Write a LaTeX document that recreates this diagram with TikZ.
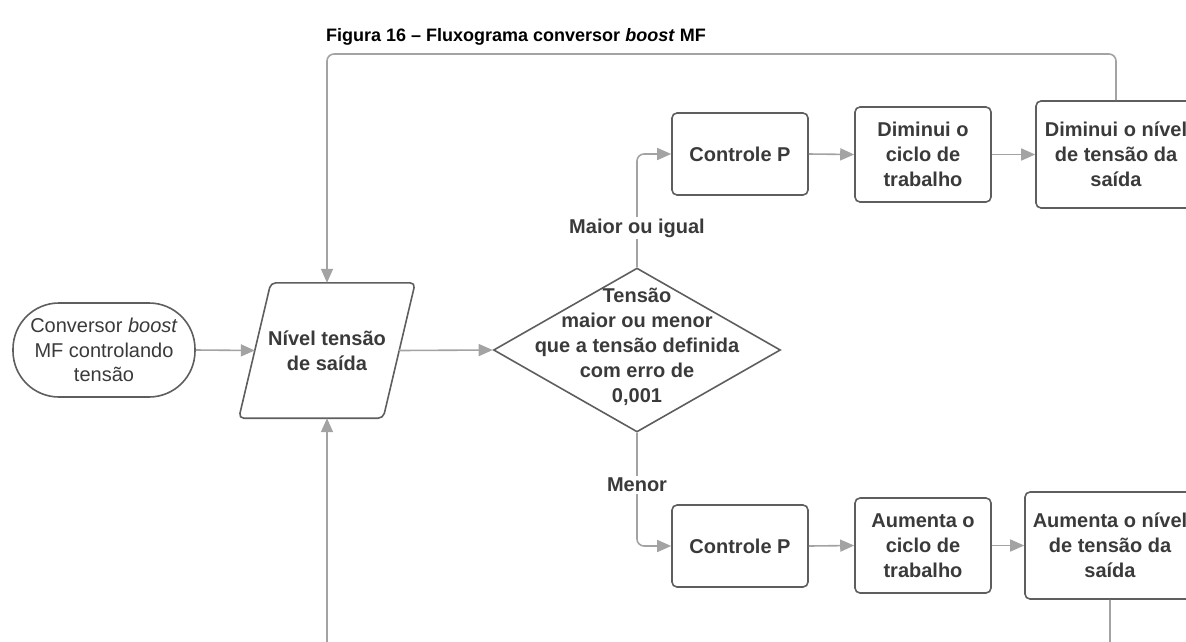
\documentclass[tikz,border=0pt]{standalone}
\usepackage{fontspec}
\setmainfont{Liberation Sans}
\usetikzlibrary{shapes.geometric,arrows.meta}
\definecolor{bordergray}{HTML}{5E5E5E}
\definecolor{linegray}{HTML}{A3A3A3}
\definecolor{textgray}{HTML}{3A3A3A}
\begin{document}
\begin{tikzpicture}[x=1pt,y=-1pt,
  txt/.style={font=\fontsize{20}{25}\selectfont\bfseries, text=textgray, align=center},
  box/.style={txt, draw=bordergray, line width=1.6pt, rounded corners=5pt, inner sep=0pt},
  conn/.style={draw=linegray, line width=1.6pt, -{Triangle[length=14pt,width=12pt]}, rounded corners=7pt},
  lbl/.style={txt, fill=white, inner sep=2pt}]
\useasboundingbox (0,0) rectangle (1186,641);
\clip (0,0) rectangle (1186,641);
\node[font=\fontsize{18}{22}\selectfont\bfseries] (title) at (516,37) {Figura 16 – Fluxograma conversor \textit{boost} MF};
\node[draw=bordergray, line width=1.6pt, rounded corners=46pt, minimum width=182pt, minimum height=94pt, inner sep=0pt, align=center, font=\fontsize{20}{24.5}\selectfont, text=textgray] (start) at (104,350) {Conversor \textit{boost}\\MF controlando\\tensão};
\node[txt, minimum width=144pt, minimum height=135pt, inner sep=0pt] (par) at (327,350.5) {Nível tensão\\de saída};
\draw[bordergray, line width=1.6pt, rounded corners=5pt] ([xshift=16pt]par.north west) -- ([xshift=16pt]par.north east) -- ([xshift=-16pt]par.south east) -- ([xshift=-16pt]par.south west) -- cycle;
\node[diamond, draw=bordergray, line width=1.6pt, minimum width=287pt, minimum height=164pt, inner sep=0pt] (dec) at (637,350) {};
\node[txt] (dectext) at (637,347) {Tensão\\maior ou menor\\que a tensão definida\\com erro de\\0,001};
\node[box, minimum width=136pt, minimum height=82pt] (cp1) at (740,154) {Controle P};
\node[box, minimum width=136pt, minimum height=95pt] (dc1) at (923,154.5) {Diminui o\\ciclo de\\trabalho};
\node[box, minimum width=160pt, minimum height=107pt] (dn1) at (1116,154.5) {Diminui o nível\\de tensão da\\saída};
\node[box, minimum width=136pt, minimum height=82pt] (cp2) at (740,546) {Controle P};
\node[box, minimum width=136pt, minimum height=95pt] (ac2) at (923,545.5) {Aumenta o\\ciclo de\\trabalho};
\node[box, minimum width=170pt, minimum height=107pt] (an2) at (1110,545.5) {Aumenta o nível\\de tensão da\\saída};
\coordinate (topy) at (0,54);
\coordinate (boty) at (0,700);
\draw[conn] (start.east) -- (par.west);
\draw[conn] (par.east) -- (dec.west);
\draw[conn] (dec.north) |- (cp1.west);
\node[lbl] (maior) at (637,228) {Maior ou igual};
\draw[conn] (cp1.east) -- (dc1.west);
\draw[conn] (dc1.east) -- (dn1.west);
\draw[conn] (dn1.north) -- (dn1.north |- topy) -| (par.north);
\draw[conn] (dec.south) |- (cp2.west);
\node[lbl] (menor) at (637,485) {Menor};
\draw[conn] (cp2.east) -- (ac2.west);
\draw[conn] (ac2.east) -- (an2.west);
\draw[conn] (an2.south) -- (an2.south |- boty) -| (par.south);
\end{tikzpicture}
\end{document}
